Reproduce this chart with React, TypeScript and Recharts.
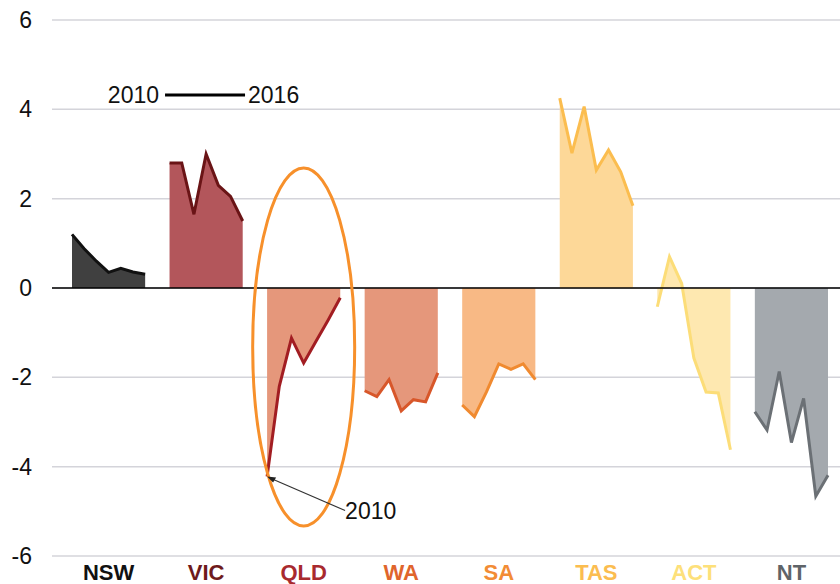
import { ComposedChart, Area, XAxis, YAxis, CartesianGrid, ReferenceLine, ReferenceDot } from "recharts";

// one point per year, 2010 to 2016
const years = [2010, 2011, 2012, 2013, 2014, 2015, 2016];
const states = ["NSW", "VIC", "QLD", "WA", "SA", "TAS", "ACT", "NT"];

const nsw = [1.2, 0.88, 0.6, 0.35, 0.44, 0.36, 0.31];
const vic = [2.8, 2.8, 1.65, 3.0, 2.3, 2.05, 1.5];
const qld = [-4.22, -2.2, -1.12, -1.68, -1.2, -0.72, -0.22];
const wa = [-2.3, -2.43, -2.05, -2.75, -2.5, -2.55, -1.9];
const sa = [-2.62, -2.88, -2.32, -1.7, -1.82, -1.7, -2.05];
const tas = [4.25, 3.02, 4.06, 2.64, 3.09, 2.6, 1.84];
const act = [-0.42, 0.7, 0.1, -1.57, -2.33, -2.35, -3.62];
const nt = [-2.77, -3.18, -1.87, -3.46, -2.47, -4.66, -4.19];

const series = [nsw, vic, qld, wa, sa, tas, act, nt];
const yTicks = [-6, -4, -2, 0, 2, 4, 6];

const fills = ["#404040", "#b3565b", "#e5977b", "#e5977b", "#f8b985", "#fdd898", "#fee8b0", "#a4a9ae"];
const strokes = ["#111111", "#6a1416", "#a21d22", "#d8572a", "#f08a30", "#fbbd4f", "#fcdd78", "#6b7075"];
const labelColors = ["#111111", "#6e1a1c", "#a82a2e", "#e0652c", "#f28c35", "#fbbd50", "#fde07a", "#5f6468"];

// each state gets 7 slots, then one empty slot as a gap
const slot = years.length + 1;
const data: Record<string, number | null>[] = [];
for (let g = 0; g < states.length; g++) {
  for (let i = 0; i < slot; i++) {
    if (g === states.length - 1 && i === years.length) break;
    const row: Record<string, number | null> = { x: g * slot + i };
    states.forEach((s, k) => {
      row[s] = k === g && i < years.length ? series[k][i] : null;
    });
    data.push(row);
  }
}
const groupTicks = states.map((_, g) => g * slot + 3);

const font = '"Liberation Sans", Arial, sans-serif';

const StateTick = (props: any) => {
  const { x, y, payload } = props;
  const idx = Math.round((payload.value - 3) / slot);
  return (
    <text x={x} y={y + 22} textAnchor="middle" fontFamily={font} fontSize={22} fontWeight="bold" fill={labelColors[idx]}>
      {states[idx]}
    </text>
  );
};

const Ring = (props: any) => (
  <ellipse cx={props.cx} cy={props.cy} rx={51} ry={179} fill="none" stroke="#f7902b" strokeWidth={3} />
);

const Pointer = (props: any) => {
  const { cx, cy } = props;
  return (
    <g>
      <line x1={cx + 78} y1={cy + 34} x2={cx + 4} y2={cy + 2} stroke="#333" strokeWidth={1.2} />
      <polygon points={`${cx},${cy} ${cx + 9},${cy + 1} ${cx + 6},${cy + 6}`} fill="#222" />
      <text x={cx + 78} y={cy + 34} dy="0.36em" fontFamily={font} fontSize={23} fill="#111">
        {years[0]}
      </text>
    </g>
  );
};

const YearKey = (props: any) => {
  const { cx, cy } = props;
  return (
    <g>
      <text x={cx - 6} y={cy} dy="0.33em" textAnchor="end" fontFamily={font} fontSize={23} fill="#111">
        {years[0]}
      </text>
      <line x1={cx} y1={cy} x2={cx + 80} y2={cy} stroke="#000" strokeWidth={3} />
      <text x={cx + 83} y={cy} dy="0.33em" textAnchor="start" fontFamily={font} fontSize={23} fill="#111">
        {years[years.length - 1]}
      </text>
    </g>
  );
};

export default function App() {
  return (
    <div style={{ position: "absolute", left: 0, top: 0, width: 840, height: 584, background: "#fff" }}>
      <ComposedChart width={840} height={584} data={data} margin={{ top: 20, right: 0, bottom: 0, left: 0 }}>
        <CartesianGrid vertical={false} stroke="#d4d4da" strokeWidth={1.5} />
        <XAxis
          dataKey="x"
          type="number"
          domain={[0, data.length - 1]}
          ticks={groupTicks}
          padding={{ left: 20, right: 12 }}
          axisLine={false}
          tickLine={false}
          tickSize={0}
          height={28}
          interval={0}
          tick={<StateTick />}
        />
        <YAxis
          domain={[-6, 6]}
          ticks={yTicks}
          width={52}
          axisLine={false}
          tickLine={false}
          tickSize={0}
          tickMargin={20}
          tick={{ fontFamily: font, fontSize: 23, fill: "#111" }}
        />
        {states.map((s, k) => (
          <Area
            key={s}
            type="linear"
            dataKey={s}
            stroke={strokes[k]}
            strokeWidth={3}
            fill={fills[k]}
            fillOpacity={1}
            baseValue={0}
            connectNulls={false}
            dot={false}
            activeDot={false}
            isAnimationActive={false}
          />
        ))}
        <ReferenceLine y={0} stroke="#000" strokeWidth={1.6} />
        <ReferenceDot x={19} y={-1.32} r={1} shape={<Ring />} />
        <ReferenceDot x={16} y={qld[0]} r={1} shape={<Pointer />} />
        <ReferenceDot x={7.63} y={4.32} r={1} shape={<YearKey />} />
      </ComposedChart>
    </div>
  );
}
